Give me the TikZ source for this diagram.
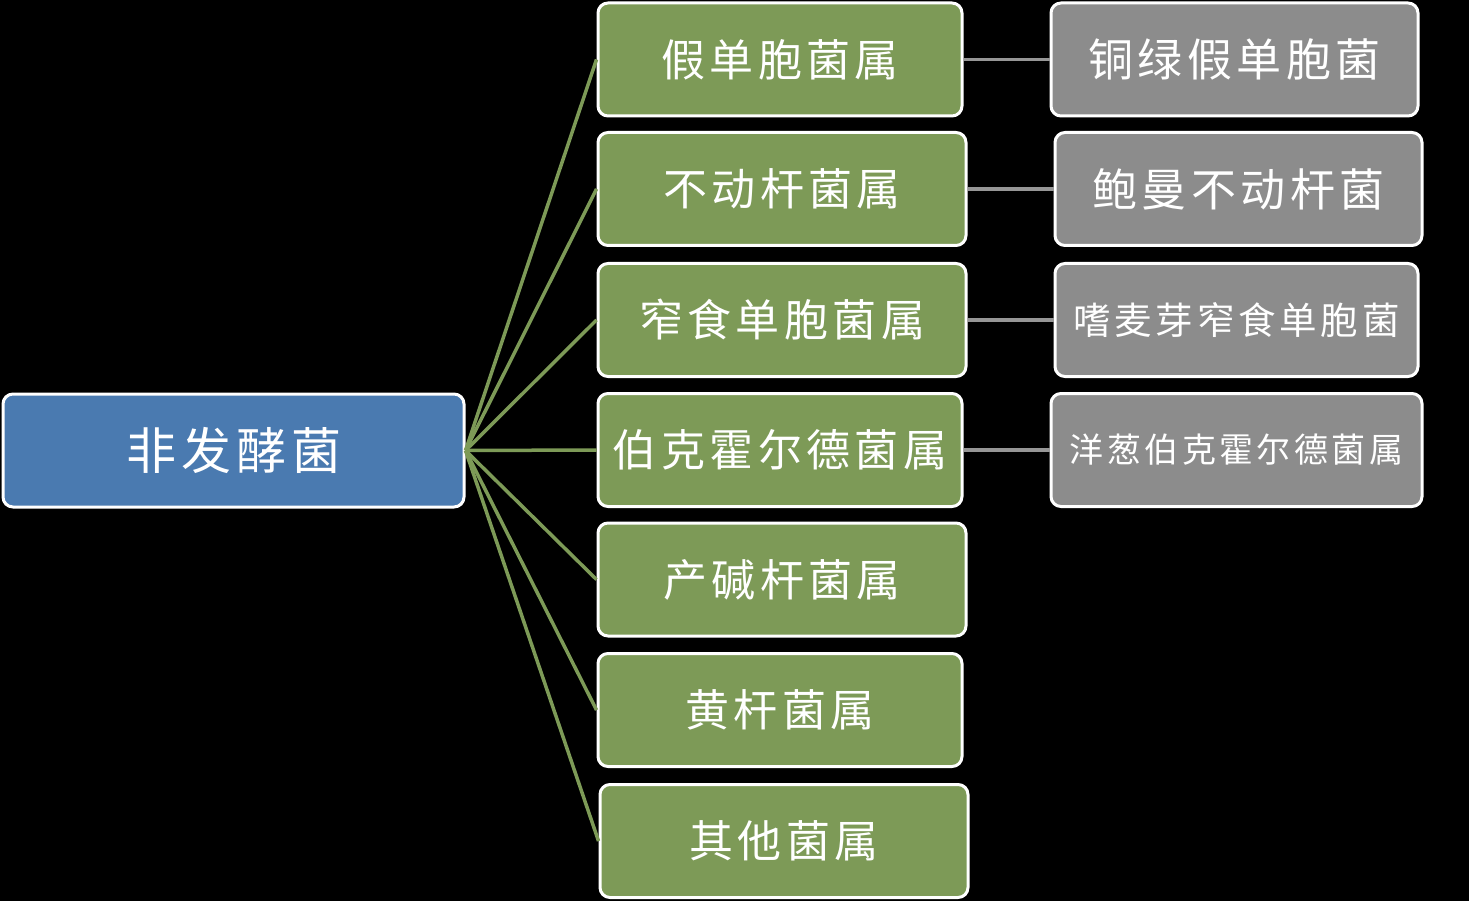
\documentclass[tikz,border=0pt]{standalone}
\usepackage{fontspec}
\newfontfamily\cjk[LetterSpace=10]{Noto Sans CJK SC}
\definecolor{rootblue}{RGB}{74,122,176}
\definecolor{leafgreen}{RGB}{125,154,87}
\definecolor{leafgray}{RGB}{140,140,140}
\definecolor{linegray}{RGB}{150,150,150}
\begin{document}
\begin{tikzpicture}[x=1pt,y=-1pt,
  box/.style={draw=white,line width=3pt,rounded corners=10pt,inner sep=0pt,text=white,font=\cjk},
  rootbox/.style={box,fill=rootblue,minimum width=461pt,minimum height=113pt,font=\cjk\fontsize{50}{52}\selectfont},
  genus/.style={box,fill=leafgreen,minimum height=113pt,font=\cjk\fontsize{44}{46}\selectfont},
  species/.style={box,fill=leafgray,minimum height=113pt},
  gline/.style={draw=leafgreen,line width=3.5pt},
  sline/.style={draw=linegray,line width=3.5pt}]
\fill[black] (0,0) rectangle (1469,901);
\useasboundingbox (0,0) rectangle (1469,901);
\node[rootbox] (root) at (233.5,450.5) {非发酵菌};
\node[genus,minimum width=364pt] (g1) at (780,59.5) {假单胞菌属};
\node[genus,minimum width=368pt] (g2) at (782,189) {不动杆菌属};
\node[genus,minimum width=368pt] (g3) at (782,320) {窄食单胞菌属};
\node[genus,minimum width=364pt] (g4) at (780,450) {伯克霍尔德菌属};
\node[genus,minimum width=368pt] (g5) at (782,579.5) {产碱杆菌属};
\node[genus,minimum width=364pt] (g6) at (780,710) {黄杆菌属};
\node[genus,minimum width=368pt] (g7) at (784,841) {其他菌属};
\node[species,minimum width=367pt,font=\cjk\fontsize{45}{47}\selectfont] (s1) at (1234.5,59.5) {铜绿假单胞菌};
\node[species,minimum width=367pt,font=\cjk\fontsize{45}{47}\selectfont] (s2) at (1238.5,189) {鲍曼不动杆菌};
\node[species,minimum width=363pt,font=\cjk\fontsize{37.5}{39}\selectfont] (s3) at (1236.5,320) {嗜麦芽窄食单胞菌};
\node[species,minimum width=371pt,font=\cjk\fontsize{34}{36}\selectfont] (s4) at (1236.5,450) {洋葱伯克霍尔德菌属};
\foreach \g in {g1,g2,g3,g4,g5,g6,g7}{\draw[gline] (root.east) -- (\g.west);}
\draw[sline] (g1.east) -- (s1.west);
\draw[sline] (g2.east) -- (s2.west);
\draw[sline] (g3.east) -- (s3.west);
\draw[sline] (g4.east) -- (s4.west);
\end{tikzpicture}
\end{document}
